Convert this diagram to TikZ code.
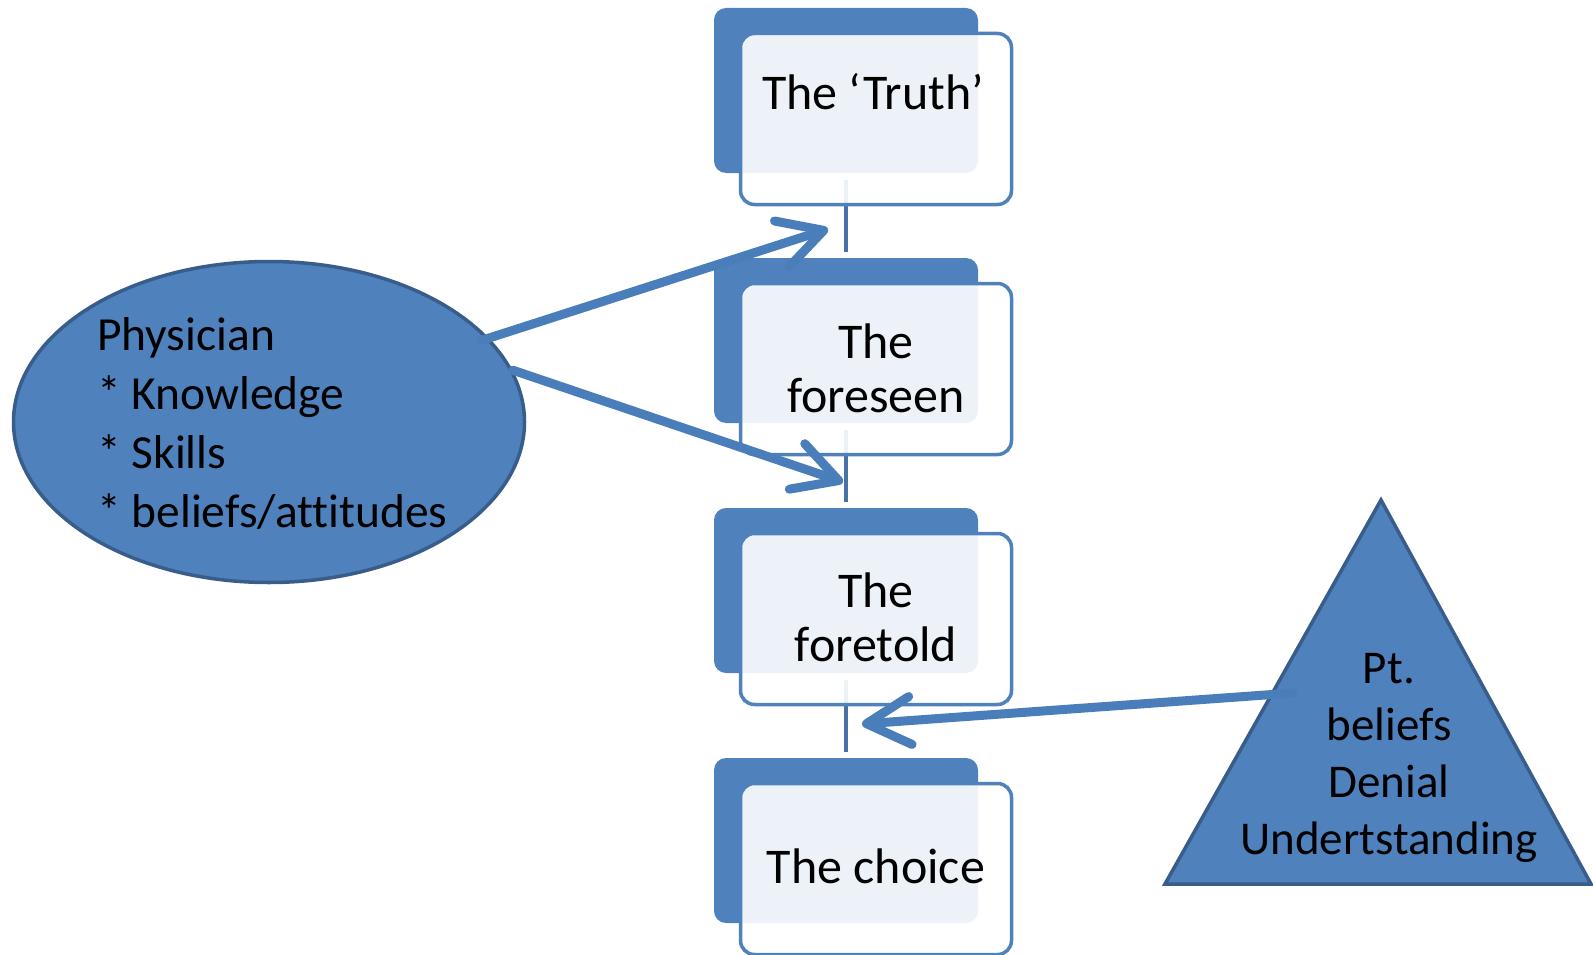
\documentclass[tikz,border=0pt]{standalone}
\usepackage{fontspec}
\setmainfont{Carlito}[Ligatures=NoCommon]
\usetikzlibrary{shapes.geometric,arrows.meta,calc}
\definecolor{accent}{HTML}{4F81BD}
\definecolor{edgeblue}{HTML}{385D8A}
\definecolor{arrowblue}{HTML}{4A7EBB}
\definecolor{linkblue}{HTML}{4672A8}
\begin{document}
\begin{tikzpicture}[x=1pt,y=-1pt,
 backbox/.style={fill=accent, draw=none, rounded corners=12pt, minimum width=264pt, minimum height=165pt, inner sep=0pt},
 frontbox/.style={draw=accent, line width=3.5pt, fill=white, fill opacity=0.9, rounded corners=14pt, minimum width=271pt, minimum height=171pt, inner sep=0pt},
 boxtext/.style={font=\fontsize{50}{54}\selectfont, align=center, inner sep=0pt, anchor=base},
 link/.style={draw=linkblue, line width=3.5pt},
 pointer/.style={draw=arrowblue, line width=9pt, line cap=round, -{Straight Barb[length=44pt,width=48pt,round]}},
 shapefill/.style={fill=accent, draw=edgeblue, line width=3.5pt},
 shapetext/.style={inner sep=0pt}
]
\useasboundingbox (0,0) rectangle (1593,955);
\fill[white] (0,0) rectangle (1593,955);

% back rectangles
\node[backbox] (b1) at (846,90.5) {};
\node[backbox] (b2) at (846,340.5) {};
\node[backbox] (b3) at (846,590.5) {};
\node[backbox] (b4) at (846,840.5) {};

% connectors
\draw[link] ([yshift=-7pt]b1.south) -- ([yshift=6pt]b2.north);
\draw[link] ([yshift=-7pt]b2.south) -- ([yshift=6pt]b3.north);
\draw[link] ([yshift=-7pt]b3.south) -- ([yshift=6pt]b4.north);

% front rectangles
\node[frontbox] (f1) at (876,119) {};
\node[frontbox] (f2) at (876,369) {};
\node[frontbox] (f3) at (876,619) {};
\node[frontbox] (f4) at (876,869) {};

% box texts (anchor = baseline of last line)
\node[boxtext] (t1) at (873,110) {The ‘Truth’};
\node[boxtext] (t2) at (876,412) {The\\foreseen};
\node[boxtext] (t3) at (876,661) {The\\foretold};
\node[boxtext] (t4) at (876,883) {The choice};

% ellipse
\node[ellipse, shapefill, minimum width=511pt, minimum height=321pt, inner sep=0pt] (phys) at (269,422) {};
\node[shapetext, anchor=base west, align=left, font=\fontsize{47.5}{59}\selectfont] (physlist) at (97,527)
  {Physician\\* Knowledge\\* Skills\\* beliefs/attitudes};

% triangle
\coordinate (apex) at (1381,500);
\coordinate (brc) at (1591,884);
\coordinate (blc) at (1165,884);
\draw[shapefill] (apex) -- (brc) -- (blc) -- cycle;
\node[shapetext, anchor=base, align=center, font=\fontsize{47}{57}\selectfont] (ptlist) at (1389,854)
  {Pt.\\beliefs\\Denial\\Undertstanding};

% arrows
\coordinate (tip1) at (828,229);
\coordinate (tip2) at (843,482);
\coordinate (tip3) at (862,724);
\coordinate (ptout) at (1293,693);
\draw[pointer] ($(phys.center)!0.965!(phys.21)$) -- (tip1);
\draw[pointer] (phys.12) -- (tip2);
\draw[pointer] (ptout) -- (tip3);
\end{tikzpicture}
\end{document}
